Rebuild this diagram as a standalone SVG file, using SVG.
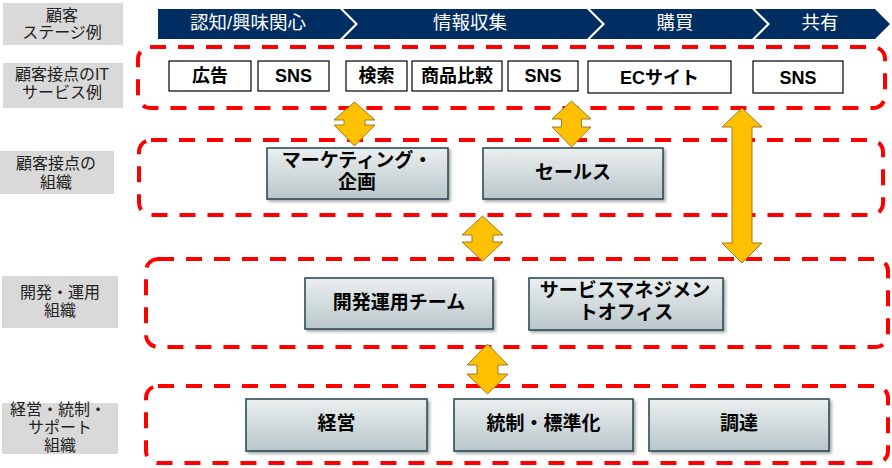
<svg xmlns="http://www.w3.org/2000/svg" width="892" height="468" viewBox="0 0 892 468">
<defs>
<linearGradient id="g" x1="0" y1="0" x2="0" y2="1">
<stop offset="0" stop-color="#ebefef"/>
<stop offset="1" stop-color="#b9c6ca"/>
</linearGradient>
<filter id="sh" x="-10%" y="-10%" width="130%" height="140%">
<feDropShadow dx="2" dy="2" stdDeviation="1.5" flood-color="#000" flood-opacity="0.35"/>
</filter>
<style>
text{font-family:"Liberation Sans","Noto Sans CJK JP",sans-serif;text-anchor:middle;dominant-baseline:central}
.lbl rect{fill:#d9d9d9}
.lbl text{font-size:16px;fill:#222}
.stage{fill:#002e63}
.stage-t{font-size:18.5px;fill:#fff}
.zone{fill:none;stroke:#ff0000;stroke-width:4;stroke-dasharray:16 12}
.it rect{fill:#fff;stroke:#000;stroke-width:1.2}
.it text{font-size:18px;font-weight:bold;fill:#000}
.org rect{fill:url(#g);stroke:#24444c;stroke-width:1.5;filter:url(#sh)}
.org text{font-size:19px;font-weight:bold;fill:#000}
.arr{fill:#ffc000;stroke:#9c7a28;stroke-width:1}
</style>
</defs>
<rect width="892" height="468" fill="#fff"/>

<g id="label-stage" class="lbl"><rect x="3" y="3" width="120" height="42"/><text x="62" y="15.5">顧客</text><text x="62" y="32">ステージ例</text></g>
<g id="label-it" class="lbl"><rect x="3" y="63" width="120" height="45"/><text x="62" y="74.5">顧客接点のIT</text><text x="62" y="92.5">サービス例</text></g>
<g id="label-org" class="lbl"><rect x="0" y="151" width="114" height="43"/><text x="56" y="163">顧客接点の</text><text x="56" y="182">組織</text></g>
<g id="label-dev" class="lbl"><rect x="2" y="276" width="116" height="52"/><text x="60" y="292">開発・運用</text><text x="60" y="310">組織</text></g>
<g id="label-mgmt" class="lbl"><rect x="2" y="403" width="116" height="51"/><text x="58" y="409">経営・統制・</text><text x="60" y="427">サポート</text><text x="60" y="445">組織</text></g>

<g id="stages">
<polygon class="stage" points="158,9 340,9 355,24 340,39 158,39"/>
<polygon class="stage" points="343,9 587,9 602,24 587,39 343,39 358,24"/>
<polygon class="stage" points="590,9 752,9 767,24 752,39 590,39 605,24"/>
<polygon class="stage" points="755,9 875,9 890,24 875,39 755,39 770,24"/>
<text class="stage-t" x="248" y="22.5">認知/興味関心</text>
<text class="stage-t" x="470" y="22.5">情報収集</text>
<text class="stage-t" x="675" y="22.5">購買</text>
<text class="stage-t" x="820" y="22.5">共有</text>
</g>

<g id="zones">
<rect class="zone" x="138" y="47" width="747" height="61" rx="12"/>
<rect class="zone" x="139" y="140" width="744" height="75" rx="12"/>
<rect class="zone" x="146" y="259" width="742" height="88" rx="12"/>
<rect class="zone" x="146" y="386" width="742" height="77" rx="12"/>
</g>

<g id="it-ad" class="it"><rect x="169" y="61" width="82" height="30"/><text x="210" y="75.5">広告</text></g>
<g id="it-sns1" class="it"><rect x="258" y="61" width="71" height="30"/><text x="293.5" y="75.5">SNS</text></g>
<g id="it-search" class="it"><rect x="346" y="61" width="61" height="30"/><text x="376.5" y="75.5">検索</text></g>
<g id="it-compare" class="it"><rect x="412" y="61" width="90" height="30"/><text x="457" y="75.5">商品比較</text></g>
<g id="it-sns2" class="it"><rect x="508" y="61" width="70" height="30"/><text x="543" y="75.5">SNS</text></g>
<g id="it-ec" class="it"><rect x="588" y="61" width="143" height="32"/><text x="659.5" y="77.5">ECサイト</text></g>
<g id="it-sns3" class="it"><rect x="753" y="61" width="90" height="32"/><text x="798" y="77.5">SNS</text></g>

<g id="org-marketing" class="org"><rect x="267" y="148" width="181" height="51"/><text x="357" y="160">マーケティング・</text><text x="357" y="182">企画</text></g>
<g id="org-sales" class="org"><rect x="483" y="148" width="180" height="51"/><text x="573" y="172">セールス</text></g>
<g id="org-devops" class="org"><rect x="305" y="278" width="188" height="51"/><text x="399" y="302">開発運用チーム</text></g>
<g id="org-smo" class="org"><rect x="529" y="278" width="194" height="52"/><text x="625" y="290">サービスマネジメン</text><text x="626" y="312">トオフィス</text></g>
<g id="org-exec" class="org"><rect x="246" y="399" width="181" height="52"/><text x="336.5" y="423">経営</text></g>
<g id="org-gov" class="org"><rect x="454" y="399" width="179" height="52"/><text x="543.5" y="423">統制・標準化</text></g>
<g id="org-proc" class="org"><rect x="649" y="399" width="180" height="52"/><text x="739" y="423">調達</text></g>

<g id="connectors">
<polygon class="arr" points="354.5,102 375,120 365,120 365,125 375,125 354.5,146 334,125 344,125 344,120 334,120"/>
<polygon class="arr" points="571.5,101 591,119 581.5,119 581.5,127 591,127 571.5,147 552,127 561.5,127 561.5,119 552,119"/>
<polygon class="arr" points="482.5,216 503,235 493,235 493,242 503,242 482.5,261 462,242 472,242 472,235 462,235"/>
<polygon class="arr" points="742,108 762,127 752,127 752,243 762,243 742,263 722,243 732,243 732,127 722,127"/>
<polygon class="arr" points="487.5,344 508,365 498,365 498,374 508,374 487.5,394 467,374 477,374 477,365 467,365"/>
</g>
</svg>
